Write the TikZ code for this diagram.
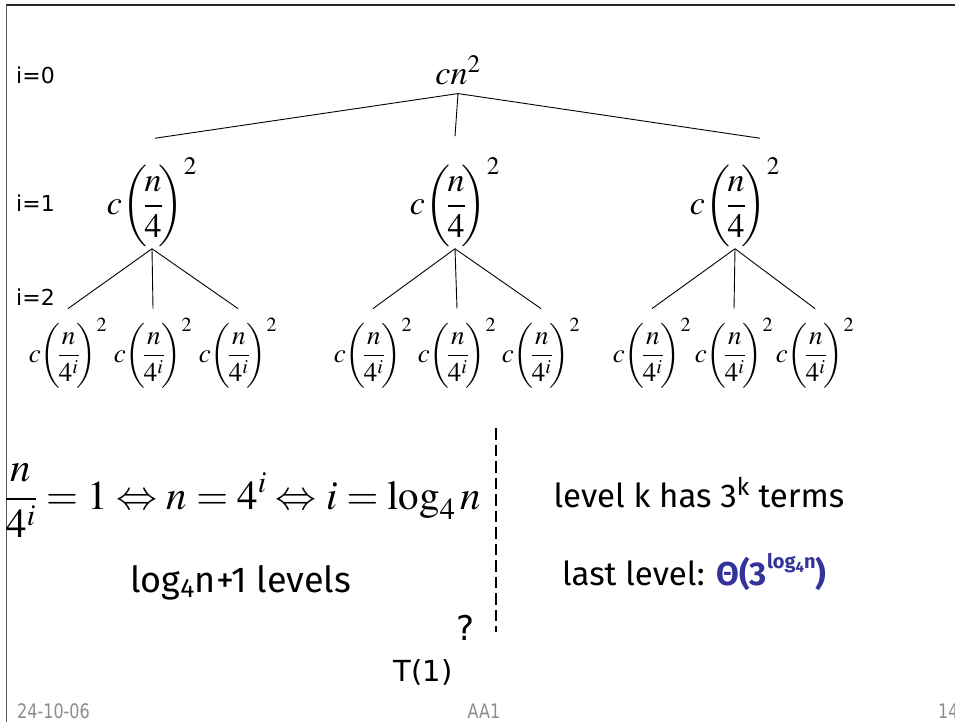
\documentclass[tikz,border=0pt]{standalone}
\usepackage{mathptmx}
\usepackage[no-math]{fontspec}
\newfontfamily\labelfont{DejaVu Sans}
\newfontfamily\handfont{Fira Sans}
\newfontfamily\footfont[FakeStretch=0.8]{DejaVu Sans}
\definecolor{thetablue}{HTML}{333399}
\definecolor{footgrey}{HTML}{8C8C8C}
% c (n/d)^2 with tall parentheses; #1 denominator, #2 strut depth, #3 strut height
\newcommand{\subterm}[3]{$\displaystyle c{\left(\rule[-#2]{0pt}{#3}\mkern-2mu\frac{n}{#1}\mkern-2mu\right)}^{2}$}
\tikzset{
  rootterm/.style={inner sep=0pt, font=\fontsize{34}{40}\selectfont},
  midterm/.style={inner sep=0pt, font=\fontsize{34}{40}\selectfont},
  leafterm/.style={inner sep=0pt, font=\fontsize{27}{31}\selectfont},
  levellabel/.style={inner sep=0pt, anchor=west, font=\labelfont\fontsize{22}{26}\selectfont},
  branch/.style={line width=0.9pt},
  handtext/.style={inner sep=0pt, font=\handfont\fontsize{33}{38}\selectfont},
  foottext/.style={inner sep=0pt, text=footgrey, font=\footfont\fontsize{20}{24}\selectfont},
}
\begin{document}
\begin{tikzpicture}[x=1pt,y=-1pt]
\useasboundingbox (0,0) rectangle (955,722);
% slide frame
\draw[line width=2pt, black!85] (6,5) -- (955,5);
\draw[line width=0.8pt, black!65] (6,5) -- (6,722);

% level labels
\node[levellabel] (lab0) at (16,75) {i=0};
\node[levellabel] (lab1) at (16,203) {i=1};
\node[levellabel] (lab2) at (16,297) {i=2};

% root
\node[rootterm, anchor=base] (root) at (458,85) {$cn^2$};

% first level
\node[midterm] (l1a) at (152,203) {\subterm{4}{34pt}{84pt}};
\node[midterm] (l1b) at (455,203) {\subterm{4}{34pt}{84pt}};
\node[midterm] (l1c) at (735,203) {\subterm{4}{34pt}{84pt}};

% second level
\foreach \nm/\xx in {l2a/68, l2b/153, l2c/238, l2d/373, l2e/457, l2f/541, l2g/652, l2h/734, l2i/815}
  \node[leafterm] (\nm) at (\xx,353) {\subterm{4^{i}}{25pt}{64pt}};

% branches from the root
\draw[branch] ([yshift=-8pt]root.south) -- ([xshift=3pt,yshift=19pt]l1a.north);
\draw[branch] ([yshift=-8pt]root.south) -- ([yshift=21pt]l1b.north);
\draw[branch] ([yshift=-8pt]root.south) -- ([xshift=25pt,yshift=19pt]l1c.north);

% branches from the first level
\foreach \up/\kids in {l1a/{l2a,l2b,l2c}, l1b/{l2d,l2e,l2f}, l1c/{l2g,l2h,l2i}}
  \foreach \kid in \kids
    \draw[branch] (\up.south) -- ([yshift=9pt]\kid.north);

% depth computation
\node[inner sep=0pt, anchor=base west, font=\fontsize{41}{46}\selectfont] (eq) at (5,509)
  {$\displaystyle \frac{n}{4^{i}} = 1 \Leftrightarrow n = 4^{i} \Leftrightarrow i = \log_{4} n$};
\node[handtext, anchor=base west, font=\handfont\fontsize{36}{40}\selectfont] (levels) at (130,592)
  {log\textsubscript{4}n+1 levels};

% divider
\coordinate (dtop) at (496,428);
\coordinate (dbot) at (496,632);
\draw[line width=2pt, dash pattern=on 11.5pt off 5pt] (dtop) -- (dbot);

\node[inner sep=0pt, font=\labelfont\fontsize{34}{40}\selectfont] (qm) at (466,628) {?};
\node[inner sep=0pt, font=\labelfont\fontsize{29}{34}\selectfont] (t1) at (423,672) {T(1)};

% counting terms
\node[handtext, anchor=base] (terms) at (699,507)
  {level k has 3\textsuperscript{k} terms};
\node[handtext, anchor=base west] (last) at (562,585)
  {last level: \textcolor{thetablue}{\bfseries Θ(3\raisebox{0.5em}{\fontsize{20}{22}\selectfont log\raisebox{-0.2em}{\fontsize{15}{17}\selectfont 4}n})}};

% footer
\node[foottext, anchor=west] (date) at (17,711) {24-10-06};
\node[foottext] (course) at (484,711) {AA1};
\node[foottext, anchor=west] (page) at (938,711) {14};
\end{tikzpicture}
\end{document}
